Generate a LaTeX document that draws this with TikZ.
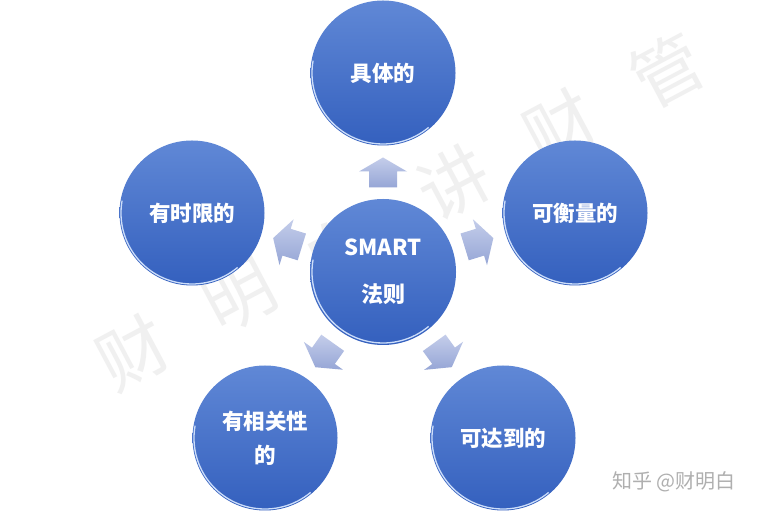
\documentclass[tikz,border=0pt]{standalone}
\usepackage{fontspec}
\newfontfamily\cjk{Noto Sans CJK SC}
\usetikzlibrary{calc}
\definecolor{ctop}{RGB}{96,136,214}
\definecolor{cbot}{RGB}{52,96,190}
\definecolor{rim}{RGB}{205,222,250}
\definecolor{atop}{RGB}{196,205,234}
\definecolor{abot}{RGB}{150,166,214}
\definecolor{wm}{RGB}{240,240,240}
\definecolor{zh}{RGB}{175,175,175}
\tikzset{
  ball/.style={circle, minimum size=145pt, inner sep=0pt, top color=ctop, bottom color=cbot,
    font=\cjk\bfseries\fontsize{21.5pt}{34pt}\selectfont, text=white, align=center},
  wmark/.style={text=wm, rotate=28, font=\cjk\fontsize{70pt}{70pt}\selectfont},
  barrow/.pic={\shade[left color=atop, right color=abot, shading angle=0]
     (-15,-14) -- (1,-14) -- (1,-24) -- (15,0) -- (1,24) -- (1,14) -- (-15,14) -- cycle;}
}
\newcommand\blockarrow[2]{\path let \p1=($(#2)-(#1)$), \n1={atan2(\y1,\x1)} in
   pic[rotate=\n1] at ($(#1)!0.5!(#2)$) {barrow};}
\newcommand\ballrim[1]{\draw[rim, line width=1.3pt] ($(#1)+(170:71pt)$) arc[start angle=170, end angle=310, radius=71pt];}
\begin{document}
\begin{tikzpicture}[x=1pt,y=1pt]
\useasboundingbox (0,0) rectangle (767,513);
\fill[white] (0,0) rectangle (767,513);
% watermark
\node[wmark] (w1) at (133,160) {财};
\node[wmark] (w2) at (240,217) {明};
\node[wmark] (w3) at (340,262) {白};
\node[wmark] (w4) at (454,330) {讲};
\node[wmark] (w5) at (560,386) {财};
\node[wmark] (w6) at (667,443) {管};
% circles
\node[ball, minimum size=146pt, font=\cjk\bfseries\fontsize{22pt}{47pt}\selectfont] (C) at (383,241) {SMART\\法则};
\node[ball] (T) at (383,440) {具体的};
\node[ball] (L) at (192,300) {有时限的};
\node[ball] (R) at (575,300) {可衡量的};
\node[ball] (BL) at (265,75) {有相关性\\的};
\node[ball] (BR) at (503,75) {可达到的};
\foreach \n in {C,T,L,R,BL,BR}{\ballrim{\n}}
% arrows
\blockarrow{C}{T}
\blockarrow{C}{L}
\blockarrow{C}{R}
\blockarrow{C}{BL}
\blockarrow{C}{BR}
% footer
\node[text=zh, font=\cjk\fontsize{20pt}{20pt}\selectfont] (zh) at (674,31) {知乎 @财明白};
\end{tikzpicture}
\end{document}
